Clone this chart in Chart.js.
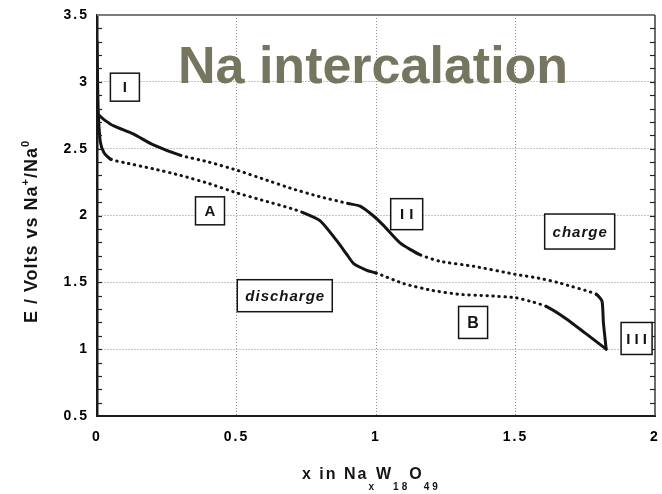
<!DOCTYPE html>
<html>
<head>
<meta charset="utf-8">
<script src="https://cdn.jsdelivr.net/npm/chart.js@4/dist/chart.umd.min.js"></script>
<style>
  html, body { margin: 0; padding: 0; background: #fff; }
</style>
</head>
<body>
<canvas id="chart" width="662" height="494"></canvas>
<script>
// discharge / charge curves, E (V vs Na+/Na0) against x in NaxW18O49
const dischargeX = [0, 0.002, 0.005, 0.012, 0.025, 0.05, 0.1, 0.2, 0.3, 0.4, 0.5, 0.6, 0.7, 0.74, 0.8, 0.86, 0.895, 0.92, 0.967, 1.0, 1.1, 1.2, 1.3, 1.4, 1.5, 1.55, 1.61, 1.68, 1.75, 1.825];
const dischargeE = [3.30, 3.0, 2.75, 2.55, 2.47, 2.42, 2.395, 2.35, 2.30, 2.24, 2.17, 2.11, 2.05, 2.02, 1.96, 1.81, 1.71, 1.64, 1.59, 1.57, 1.49, 1.44, 1.41, 1.40, 1.385, 1.36, 1.32, 1.23, 1.12, 1.0];
const chargeX = [1.825, 1.815, 1.81, 1.79, 1.75, 1.70, 1.65, 1.586, 1.5, 1.35, 1.23, 1.157, 1.086, 1.025, 0.989, 0.943, 0.9, 0.8, 0.7, 0.6, 0.5, 0.4, 0.3, 0.2, 0.13, 0.06, 0.03, 0.007];
const chargeE = [1.0, 1.2, 1.36, 1.41, 1.44, 1.47, 1.50, 1.53, 1.56, 1.62, 1.657, 1.707, 1.795, 1.93, 2.0, 2.07, 2.09, 2.14, 2.20, 2.27, 2.34, 2.40, 2.45, 2.53, 2.61, 2.67, 2.71, 2.75];

// ranges of x where the trace is printed dotted
const dischargeDotted = [[0.07, 0.74], [0.99, 1.59]];
const chargeDotted = [[0.264, 0.9], [1.17, 1.78]];

const xTicks = [0, 0.5, 1, 1.5, 2];
const yTicks = [0.5, 1, 1.5, 2, 2.5, 3, 3.5];

// boxed labels on the plot
const boxLabels = ['I', 'A', 'II', 'charge', 'discharge', 'B', 'III'];
const boxX = [0.10, 0.405, 1.11, 1.73, 0.673, 1.348, 1.934];
const boxE = [2.96, 2.035, 2.01, 1.88, 1.40, 1.20, 1.08];

const boxStyle = {
  I: { w: 29, h: 28, font: 'bold 15px "Liberation Sans"', sp: '0px' },
  A: { w: 29, h: 28, font: 'bold 15px "Liberation Sans"', sp: '0px' },
  B: { w: 29, h: 32, font: 'bold 16px "Liberation Sans"', sp: '0px' },
  II: { w: 32, h: 31, font: 'bold 15px "Liberation Sans"', sp: '5px' },
  III: { w: 31, h: 32, font: 'bold 15px "Liberation Sans"', sp: '4px' },
  charge: { w: 70, h: 35, font: 'italic bold 15px "Liberation Sans"', sp: '1px' },
  discharge: { w: 95, h: 32, font: 'italic bold 15px "Liberation Sans"', sp: '1px' }
};

const toPoints = (xs, ys) => xs.map((x, i) => ({ x: x, y: ys[i] }));
const isDotted = (ranges, ctx) => {
  const m = (ctx.p0.parsed.x + ctx.p1.parsed.x) / 2;
  return ranges.some(r => m > r[0] && m < r[1]);
};

const INK = '#141414';
const tickFont = { family: '"Liberation Sans"', size: 14, weight: 'bold' };

// frame, minor ticks, boxed labels and titles
const decor = {
  id: 'decor',
  beforeDraw(chart) {
    chart.ctx.letterSpacing = '2px';
  },
  afterDraw(chart) {
    const { ctx, chartArea: a, scales: { x, y } } = chart;
    ctx.save();
    ctx.letterSpacing = '0px';

    // top / right frame
    ctx.strokeStyle = '#7c7c7c';
    ctx.lineWidth = 2;
    ctx.beginPath(); ctx.moveTo(a.left, a.top); ctx.lineTo(a.right, a.top); ctx.stroke();
    ctx.strokeStyle = '#3a3a3a';
    ctx.lineWidth = 1.5;
    ctx.beginPath(); ctx.moveTo(a.right, a.top); ctx.lineTo(a.right, a.bottom); ctx.stroke();

    // minor ticks on left and right axes
    ctx.strokeStyle = '#222';
    ctx.lineWidth = 1.2;
    for (let k = 6; k < 35; k++) {
      const py = Math.round(y.getPixelForValue(k / 10)) + 0.5;
      ctx.beginPath(); ctx.moveTo(a.left, py); ctx.lineTo(a.left + 5, py); ctx.stroke();
      ctx.beginPath(); ctx.moveTo(a.right - 5, py); ctx.lineTo(a.right, py); ctx.stroke();
    }

    // boxed labels
    boxLabels.forEach((t, i) => {
      const s = boxStyle[t];
      const cx = x.getPixelForValue(boxX[i]);
      const cy = y.getPixelForValue(boxE[i]);
      ctx.fillStyle = '#fff';
      ctx.fillRect(cx - s.w / 2, cy - s.h / 2, s.w, s.h);
      ctx.strokeStyle = INK;
      ctx.lineWidth = 1.5;
      ctx.strokeRect(cx - s.w / 2, cy - s.h / 2, s.w, s.h);
      ctx.font = s.font;
      ctx.letterSpacing = s.sp;
      ctx.fillStyle = INK;
      ctx.textAlign = 'left';
      ctx.textBaseline = 'middle';
      const wTxt = ctx.measureText(t).width - parseFloat(s.sp);
      ctx.fillText(t, cx - wTxt / 2, cy + 1);
    });

    // x axis title with subscripts
    const xParts = [['x in Na', 0], ['x', 1], ['W', 0], ['18', 1], ['O', 0], ['49', 1]];
    ctx.textBaseline = 'alphabetic';
    ctx.fillStyle = INK;
    let px = 302;
    xParts.forEach(p => {
      ctx.font = p[1] ? 'bold 10px "Liberation Sans"' : 'bold 16px "Liberation Sans"';
      ctx.letterSpacing = p[1] ? '3px' : '2px';
      ctx.fillText(p[0], px, p[1] ? 490 : 479);
      px += ctx.measureText(p[0]).width + (p[1] ? -1 : 0);
    });

    // y axis title with superscripts
    const yParts = [['E / Volts vs Na', 0], ['+', 1], ['/Na', 0], ['0', 1]];
    ctx.save();
    ctx.translate(37, 323);
    ctx.rotate(-Math.PI / 2);
    let total = 0;
    yParts.forEach(p => {
      ctx.font = p[1] ? 'bold 11px "Liberation Sans"' : 'bold 18px "Liberation Sans"';
      ctx.letterSpacing = '1px';
      total += ctx.measureText(p[0]).width;
    });
    ctx.scale(183 / total, 1);
    let py = 0;
    yParts.forEach(p => {
      ctx.font = p[1] ? 'bold 11px "Liberation Sans"' : 'bold 18px "Liberation Sans"';
      ctx.letterSpacing = '1px';
      ctx.fillText(p[0], py, p[1] ? -8 : 0);
      py += ctx.measureText(p[0]).width;
    });
    ctx.restore();

    // overlay title
    ctx.font = 'bold 52px "Liberation Sans"';
    ctx.letterSpacing = '0px';
    ctx.fillStyle = '#767560';
    ctx.textAlign = 'left';
    ctx.fillText('Na intercalation', 178, 83);
    ctx.restore();
  }
};

const gridColor = edge => ctx => (ctx.tick && edge.includes(ctx.tick.value)) ? 'rgba(0,0,0,0)' : '#8c8c8c';
const plainTick = v => String(v);

new Chart(document.getElementById('chart'), {
  type: 'line',
  data: {
    datasets: [
      {
        label: 'discharge',
        data: toPoints(dischargeX, dischargeE),
        segment: { borderDash: ctx => isDotted(dischargeDotted, ctx) ? [0.5, 5.5] : [] }
      },
      {
        label: 'charge',
        data: toPoints(chargeX, chargeE),
        segment: { borderDash: ctx => isDotted(chargeDotted, ctx) ? [0.5, 5.5] : [] }
      }
    ].map(d => Object.assign(d, {
      borderColor: INK,
      borderWidth: 3,
      borderCapStyle: 'round',
      borderJoinStyle: 'round',
      pointRadius: 0,
      tension: 0.2,
      fill: false
    }))
  },
  options: {
    responsive: false,
    animation: false,
    layout: { padding: { left: 0, top: 15, right: 7, bottom: 0 } },
    plugins: { legend: { display: false }, tooltip: { enabled: false } },
    scales: {
      x: {
        type: 'linear',
        min: 0, max: 2,
        afterBuildTicks: s => { s.ticks = xTicks.map(v => ({ value: v })); },
        afterFit: s => { s.height = 78; s.paddingLeft = 0; s.paddingRight = 0; },
        ticks: { color: '#000', font: tickFont, padding: 13, maxRotation: 0, callback: plainTick },
        grid: { color: gridColor([0, 2]), lineWidth: 1, drawTicks: false },
        border: { display: true, color: '#1a1a1a', width: 2, dash: [1, 2] }
      },
      y: {
        type: 'linear',
        min: 0.5, max: 3.5,
        afterBuildTicks: s => { s.ticks = yTicks.map(v => ({ value: v })); },
        afterFit: s => { s.width = 97; s.paddingTop = 0; s.paddingBottom = 0; },
        ticks: { color: '#000', font: tickFont, padding: 8, callback: plainTick },
        grid: { color: gridColor([0.5, 3.5]), lineWidth: 1, drawTicks: false },
        border: { display: true, color: '#1a1a1a', width: 2.5, dash: [1, 2] }
      }
    }
  },
  plugins: [decor]
});
</script>
</body>
</html>
